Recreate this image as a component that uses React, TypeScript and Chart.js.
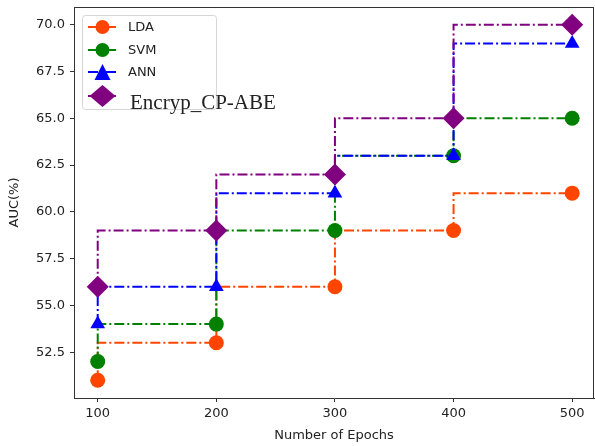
import React, { useEffect, useRef } from 'react';
import { Chart, registerables } from 'chart.js';

Chart.register(...registerables);

const epochs = [100, 200, 300, 400, 500];
const ldaValues = [51, 53, 56, 59, 61];
const svmValues = [52, 54, 59, 63, 65];
const annValues = [54, 56, 61, 63, 69];
const encrypValues = [56, 59, 62, 65, 70];
const seriesLabels = ['LDA', 'SVM', 'ANN', 'Encryp_CP-ABE'];
const seriesColors = ['#FF4500', '#008000', '#0000FF', '#800080'];
const xTicks = [100, 200, 300, 400, 500];
const yTicks = [52.5, 55, 57.5, 60, 62.5, 65, 67.5, 70];
const xTitle = 'Number of Epochs';
const yTitle = 'AUC(%)';

const DASH = [10, 3, 2, 3];
const FONT = "'DejaVu Sans', sans-serif";

function drawMarker(ctx: CanvasRenderingContext2D, kind: string, x: number, y: number, r: number, color: string, rx?: number) {
  ctx.save();
  ctx.setLineDash([]);
  ctx.fillStyle = color;
  ctx.beginPath();
  if (kind === 'circle') {
    ctx.arc(x, y, r, 0, Math.PI * 2);
  } else if (kind === 'triangle') {
    ctx.moveTo(x, y - r);
    ctx.lineTo(x + r, y + r);
    ctx.lineTo(x - r, y + r);
    ctx.closePath();
  } else {
    const w = rx ?? r;
    ctx.moveTo(x, y - r);
    ctx.lineTo(x + w, y);
    ctx.lineTo(x, y + r);
    ctx.lineTo(x - w, y);
    ctx.closePath();
  }
  ctx.fill();
  ctx.restore();
}

const framePlugin = {
  id: 'mplFrame',
  afterDatasetsDraw(chart: any) {
    const { ctx, chartArea } = chart;
    ctx.save();
    ctx.strokeStyle = '#333';
    ctx.lineWidth = 1;
    ctx.beginPath();
    ctx.moveTo(chartArea.left, Math.round(chartArea.top) + 0.5);
    ctx.lineTo(chartArea.right, Math.round(chartArea.top) + 0.5);
    ctx.moveTo(Math.round(chartArea.right) - 0.5, chartArea.top);
    ctx.lineTo(Math.round(chartArea.right) - 0.5, chartArea.bottom);
    ctx.stroke();
    ctx.restore();
  },
};

const legendPlugin = {
  id: 'mplLegend',
  afterDraw(chart: any) {
    const ctx: CanvasRenderingContext2D = chart.ctx;
    ctx.save();
    const bx = 82.5, by = 15.5, bw = 134, bh = 94, br = 3;
    ctx.beginPath();
    ctx.moveTo(bx + br, by);
    ctx.lineTo(bx + bw - br, by);
    ctx.quadraticCurveTo(bx + bw, by, bx + bw, by + br);
    ctx.lineTo(bx + bw, by + bh - br);
    ctx.quadraticCurveTo(bx + bw, by + bh, bx + bw - br, by + bh);
    ctx.lineTo(bx + br, by + bh);
    ctx.quadraticCurveTo(bx, by + bh, bx, by + bh - br);
    ctx.lineTo(bx, by + br);
    ctx.quadraticCurveTo(bx, by, bx + br, by);
    ctx.closePath();
    ctx.fillStyle = 'rgba(255,255,255,0.8)';
    ctx.fill();
    ctx.strokeStyle = '#d6d6d6';
    ctx.lineWidth = 1;
    ctx.stroke();

    const rows = [27, 50, 72];
    const kinds = ['circle', 'circle', 'triangle'];
    const radii = [7, 7, 8];
    for (let i = 0; i < 3; i++) {
      const y = rows[i];
      ctx.save();
      ctx.strokeStyle = seriesColors[i];
      ctx.lineWidth = 2;
      ctx.setLineDash(DASH);
      ctx.beginPath();
      ctx.moveTo(88, y);
      ctx.lineTo(117, y);
      ctx.stroke();
      ctx.restore();
      drawMarker(ctx, kinds[i], 102.5, y, radii[i], seriesColors[i]);
      ctx.fillStyle = '#222';
      ctx.font = `13px ${FONT}`;
      ctx.textBaseline = 'middle';
      ctx.textAlign = 'left';
      ctx.fillText(seriesLabels[i], 128, y + 1);
    }
    ctx.save();
    ctx.strokeStyle = seriesColors[3];
    ctx.lineWidth = 2;
    ctx.setLineDash(DASH);
    ctx.beginPath();
    ctx.moveTo(88, 96);
    ctx.lineTo(117, 96);
    ctx.stroke();
    ctx.restore();
    drawMarker(ctx, 'diamond', 102.5, 96, 11, seriesColors[3], 13);
    ctx.fillStyle = '#222';
    ctx.font = "21px 'Liberation Serif', serif";
    ctx.textBaseline = 'alphabetic';
    ctx.textAlign = 'left';
    ctx.fillText(seriesLabels[3], 130, 109);
    ctx.restore();
  },
};

export default function App() {
  const canvasRef = useRef<HTMLCanvasElement | null>(null);

  useEffect(() => {
    document.body.style.margin = '0';
    const canvas = canvasRef.current;
    if (!canvas) return;
    const mk = (vals: number[]) => epochs.map((x, i) => ({ x, y: vals[i] }));
    const allVals = [ldaValues, svmValues, annValues, encrypValues];
    const styles = ['circle', 'circle', 'triangle', 'rectRot'];
    const radii = [7.5, 7.5, 8.5, 11];
    const datasets = allVals.map((vals, i) => ({
      label: seriesLabels[i],
      data: mk(vals),
      borderColor: seriesColors[i],
      backgroundColor: seriesColors[i],
      borderWidth: 2,
      borderDash: DASH,
      stepped: 'after' as const,
      pointStyle: styles[i],
      pointRadius: radii[i],
      pointBorderWidth: 0,
      pointBackgroundColor: seriesColors[i],
      pointBorderColor: seriesColors[i],
      order: 3 - i,
      clip: false as any,
    }));

    const zeroPad = (s: any) => {
      s.paddingLeft = 0;
      s.paddingRight = 0;
      s.paddingTop = 0;
      s.paddingBottom = 0;
    };

    const chart = new Chart(canvas, {
      type: 'line',
      data: { datasets },
      options: {
        responsive: false,
        animation: false,
        devicePixelRatio: 1,
        layout: { autoPadding: false, padding: { top: 7, right: 1, left: 0, bottom: 0 } },
        plugins: { legend: { display: false }, tooltip: { enabled: false } },
        scales: {
          x: {
            type: 'linear',
            min: 80,
            max: 518.4,
            afterBuildTicks: (s: any) => { s.ticks = xTicks.map((v) => ({ value: v })); },
            afterFit: (s: any) => { s.height = 48; zeroPad(s); },
            grid: { display: true, drawOnChartArea: false, drawTicks: true, tickLength: 4, color: '#333', tickColor: '#333' },
            border: { display: true, color: '#333', width: 1 },
            ticks: { color: '#222', font: { family: FONT, size: 13 }, padding: 4, maxRotation: 0, callback: (v: any) => String(v) },
            title: { display: true, text: xTitle, color: '#222', font: { family: FONT, size: 13 }, padding: { top: 0, bottom: 3 } },
          },
          y: {
            type: 'linear',
            min: 50.05,
            max: 70.95,
            afterBuildTicks: (s: any) => { s.ticks = yTicks.map((v) => ({ value: v })); },
            afterFit: (s: any) => { s.width = 74; zeroPad(s); },
            grid: { display: true, drawOnChartArea: false, drawTicks: true, tickLength: 4, color: '#333', tickColor: '#333' },
            border: { display: true, color: '#333', width: 1 },
            ticks: { color: '#222', font: { family: FONT, size: 13 }, padding: 5, callback: (v: any) => Number(v).toFixed(1) },
            title: { display: true, text: yTitle, color: '#222', font: { family: FONT, size: 13 }, padding: { top: 7, bottom: 0 } },
          },
        },
      },
      plugins: [framePlugin, legendPlugin],
    } as any);
    return () => chart.destroy();
  }, []);

  return (
    <div style={{ width: 595, height: 446, background: '#fff' }}>
      <canvas ref={canvasRef} width={595} height={446} />
    </div>
  );
}
